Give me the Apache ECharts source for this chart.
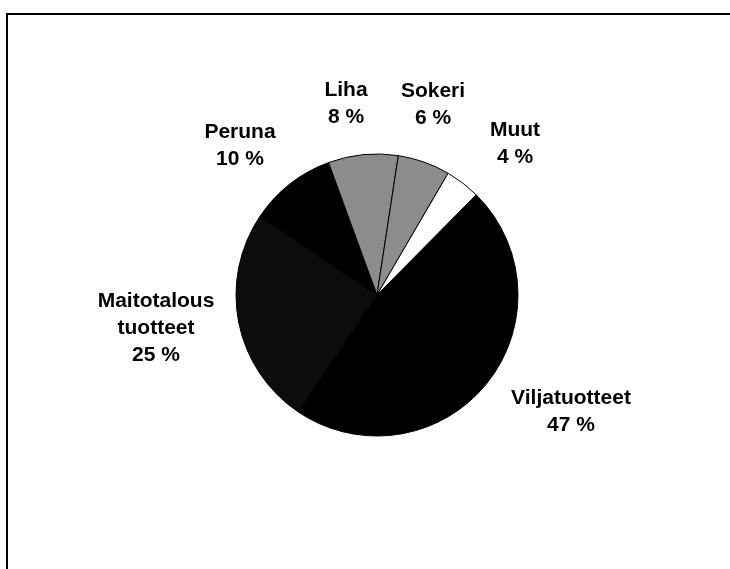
<!DOCTYPE html>
<html>
<head>
<meta charset="utf-8">
<script src="https://cdn.jsdelivr.net/npm/echarts@6/dist/echarts.min.js"></script>
<style>
html,body{margin:0;padding:0;background:#fff;}
#main{width:730px;height:569px;}
</style>
</head>
<body>
<div id="main"></div>
<script>
// Data
const categories = ['Viljatuotteet', 'Maitotalous\ntuotteet', 'Peruna', 'Liha', 'Sokeri', 'Muut'];
const values = [47, 25, 10, 8, 6, 4];
const percentLabels = ['47 %', '25 %', '10 %', '8 %', '6 %', '4 %'];

// Styling / layout (not data)
const sliceColors = ['#000000', '#0c0c0c', '#000000', '#8c8c8c', '#8c8c8c', '#ffffff'];
const sliceBorders = ['#000000', '#000000', '#000000', '#000000', '#000000', '#000000'];
const labelPos = [[571, 412], [156, 328], [240, 146], [346, 104], [433, 105], [515, 144]];

const chart = echarts.init(document.getElementById('main'), null, {renderer: 'canvas'});
chart.setOption({
  backgroundColor: '#ffffff',
  animation: false,
  graphic: [{
    type: 'rect',
    shape: {x: 7, y: 14, width: 900, height: 700},
    style: {fill: 'none', stroke: '#000', lineWidth: 2},
    z: 0
  }],
  series: [{
    type: 'pie',
    center: [377, 295],
    radius: [0, 141],
    startAngle: 45.3,
    clockwise: true,
    avoidLabelOverlap: false,
    labelLine: {show: false},
    label: {
      show: true,
      position: 'outside',
      formatter: function (p) { return p.name + '\n' + percentLabels[p.dataIndex]; },
      fontFamily: 'Liberation Sans, Arial, sans-serif',
      fontWeight: 'bold',
      fontSize: 21,
      lineHeight: 27,
      color: '#000',
      align: 'center'
    },
    labelLayout: function (params) {
      const p = labelPos[params.dataIndex];
      return {x: p[0], y: p[1], align: 'center', verticalAlign: 'middle'};
    },
    data: categories.map(function (c, i) {
      return {
        name: c,
        value: values[i],
        itemStyle: {color: sliceColors[i], borderColor: sliceBorders[i], borderWidth: 1}
      };
    })
  }]
});
</script>
</body>
</html>
